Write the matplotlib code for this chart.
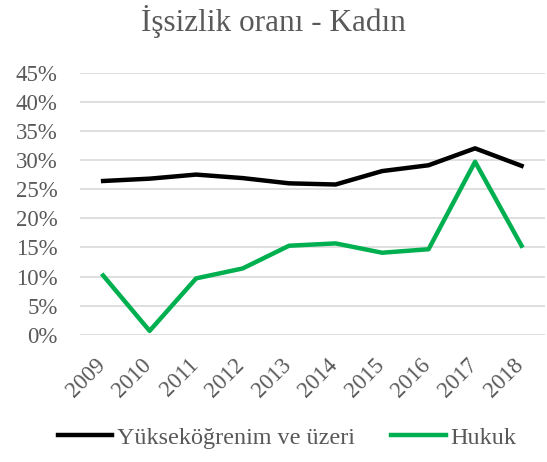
import matplotlib
matplotlib.use("Agg")
import matplotlib.pyplot as plt
import matplotlib.transforms as mtransforms
from matplotlib.ticker import PercentFormatter

years = ["2009", "2010", "2011", "2012", "2013", "2014", "2015", "2016", "2017", "2018"]
yuksekogrenim = [26.4, 26.8, 27.5, 26.9, 26.0, 25.8, 28.1, 29.1, 32.0, 29.0]
hukuk = [10.2, 0.7, 9.7, 11.4, 15.3, 15.7, 14.1, 14.7, 29.7, 15.3]

plt.rcParams["font.family"] = ["Liberation Serif", "DejaVu Serif"]
grey = "#595959"

fig = plt.figure(figsize=(5.47, 4.62), dpi=100)
ax = fig.add_axes([0.146, 0.275, 0.85, 0.568])

x = range(len(years))
ax.plot(x, yuksekogrenim, color="black", linewidth=3.2, label="Yükseköğrenim ve üzeri")
ax.plot(x, hukuk, color="#00B050", linewidth=3.2, label="Hukuk")

ax.set_xlim(-0.5, len(years) - 0.5)
ax.set_ylim(0, 45)
ax.set_yticks(range(0, 50, 5))
ax.yaxis.set_major_formatter(PercentFormatter(decimals=0))
ax.set_xticks(list(x))
ax.set_xticklabels(years, rotation=45, ha="right", rotation_mode="anchor")

ax.grid(axis="y", color="#d9d9d9", linewidth=1.2)
ax.set_axisbelow(True)
for s in ax.spines.values():
    s.set_visible(False)
ax.tick_params(axis="both", length=0, labelsize=16.5, colors=grey)
ax.tick_params(axis="y", pad=16)
ax.tick_params(axis="x", pad=14)

# nudge the rotated year labels a little to the left
shift = mtransforms.ScaledTranslation(-6 / 72, 0, fig.dpi_scale_trans)
for lbl in ax.get_xticklabels():
    lbl.set_transform(lbl.get_transform() + shift)

fig.suptitle("İşsizlik oranı - Kadın", fontsize=22.5, color=grey, y=0.99)

fig.legend(loc="lower center", ncol=2, frameon=False, fontsize=17.4,
           labelcolor=grey, bbox_to_anchor=(0.525, -0.018),
           handlelength=2.25, handletextpad=0.2, columnspacing=1.5)

fig.savefig("out.png", dpi=100)
